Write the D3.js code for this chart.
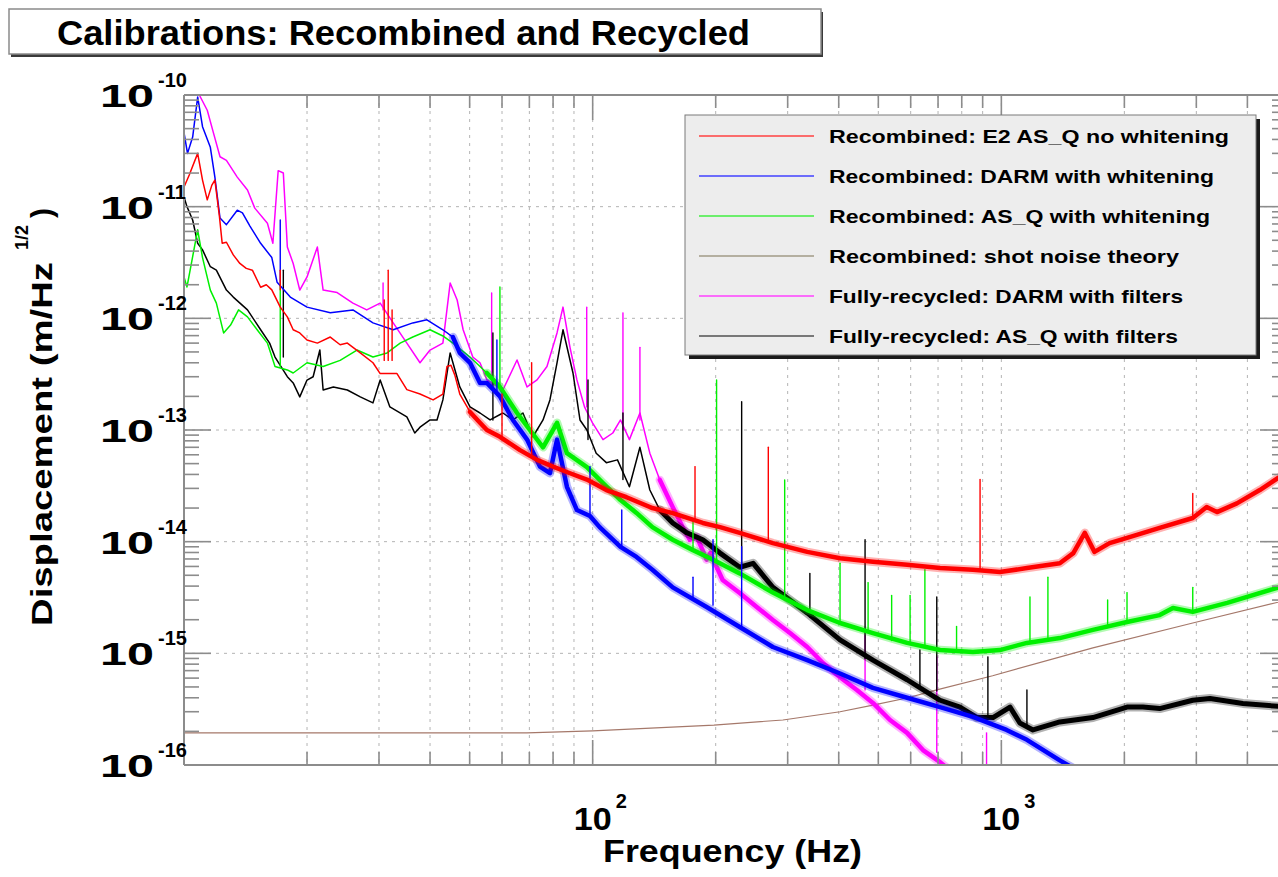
<!DOCTYPE html>
<html>
<head>
<meta charset="utf-8">
<title>Calibrations: Recombined and Recycled</title>
<script src="https://cdn.jsdelivr.net/npm/d3@7"></script>
<style>
  html, body { margin: 0; padding: 0; background: #ffffff; }
  svg { display: block; }
  text { font-family: "Liberation Sans", Arial, Helvetica, sans-serif; font-weight: bold; fill: #000; }
</style>
</head>
<body>
<svg id="chart" width="1278" height="877"></svg>
<script>
// ---- Spectra: [frequency (Hz), displacement (m/sqrt(Hz))] ----
const redTrace = [
  [10.0, 1.5e-11], [10.3, 1.92e-11], [10.8, 3.0e-11], [11.1, 1.73e-11], [11.4, 1.15e-11],
  [11.7, 1.56e-11], [11.9, 1.73e-11], [12.2, 8.4e-12], [12.4, 4.7e-12], [12.7, 4.8e-12],
  [13.2, 3.7e-12], [13.7, 3.1e-12], [14.2, 2.8e-12], [14.7, 2.7e-12], [15.4, 1.9e-12],
  [15.9, 2.0e-12], [16.4, 1.8e-12], [17.2, 1.26e-12], [17.9, 1.03e-12], [18.5, 7.9e-13],
  [19.2, 7.4e-13], [20.0, 6.4e-13], [21.2, 6.0e-13], [22.8, 6.8e-13], [24.1, 5.8e-13],
  [25.1, 6.0e-13], [27.0, 4.9e-13], [29.0, 4.0e-13], [30.2, 3.2e-13], [33.2, 3.2e-13],
  [35.1, 2.3e-13], [37.8, 2.1e-13], [40.7, 1.86e-13], [43.0, 2.1e-13], [44.0, 3.7e-13],
  [45.0, 3.8e-13], [46.0, 3.1e-13], [47.3, 2.1e-13], [50.1, 1.45e-13], [53.0, 1.16e-13],
  [55.1, 1.0e-13], [59.3, 8.7e-14], [66.4, 6.6e-14], [73.1, 5.4e-14], [80.0, 4.7e-14],
  [88.0, 4.1e-14], [96.8, 3.6e-14], [108, 2.9e-14], [121, 2.5e-14], [140, 2.0e-14],
  [157, 1.8e-14], [186, 1.47e-14], [205, 1.35e-14], [229, 1.2e-14], [276, 9.7e-15],
  [335, 8.1e-15], [403, 7.1e-15], [485, 6.6e-15], [588, 6.2e-15], [708, 5.8e-15],
  [852, 5.6e-15], [992, 5.35e-15], [1155, 5.8e-15], [1390, 6.4e-15], [1500, 7.9e-15],
  [1600, 1.2e-14], [1690, 8.1e-15], [1840, 9.7e-15], [2030, 1.08e-14], [2440, 1.33e-14],
  [2940, 1.63e-14], [3180, 2.04e-14], [3370, 1.84e-14], [3770, 2.2e-14], [4290, 2.9e-14],
  [5000, 4.2e-14]
];
const blueTrace = [
  [10.0, 4.6e-11], [10.2, 3.0e-11], [10.5, 4.2e-11], [10.8, 9.6e-11], [11.1, 5.2e-11],
  [11.6, 3.4e-11], [11.9, 1.84e-11], [12.25, 7.9e-12], [12.7, 6.9e-12], [13.5, 9.3e-12],
  [13.9, 8.8e-12], [14.5, 6.7e-12], [15.4, 4.7e-12], [16.4, 3.5e-12], [16.9, 2.1e-12],
  [18.2, 1.55e-12], [20.0, 1.26e-12], [22.8, 1.12e-12], [25.9, 1.19e-12], [29.0, 9.1e-13],
  [32.5, 7.9e-13], [36.3, 9.1e-13], [39.3, 9.7e-13], [43.0, 7.9e-13], [45.5, 6.8e-13],
  [47.3, 4.9e-13], [50.1, 4.0e-13], [53.0, 2.64e-13], [55.1, 2.64e-13], [59.3, 2.0e-13],
  [63.8, 1.23e-13], [69.1, 8.2e-14], [74.3, 4.7e-14], [78.6, 4.1e-14], [81.8, 8.2e-14],
  [86.5, 3.1e-14], [91.5, 1.92e-14], [98.5, 1.7e-14], [104, 1.35e-14], [117, 9.0e-15],
  [128, 7.3e-15], [140, 5.6e-15], [157, 3.9e-15], [190, 2.6e-15], [229, 1.72e-15],
  [276, 1.14e-15], [335, 8.7e-16], [403, 6.6e-16], [485, 4.9e-16], [588, 4.0e-16],
  [708, 3.3e-16], [852, 2.7e-16], [1030, 2.06e-16], [1155, 1.68e-16], [1390, 1.1e-16],
  [1490, 9.5e-17]
];
const greenTrace = [
  [10.0, 2.35e-12], [10.17, 1.91e-12], [10.8, 6.2e-12], [11.1, 3.5e-12], [11.6, 1.79e-12],
  [12.0, 1.37e-12], [12.5, 7.4e-13], [13.0, 8.7e-13], [13.6, 1.19e-12], [14.3, 1.03e-12],
  [15.1, 7.9e-13], [16.0, 6.0e-13], [16.7, 3.7e-13], [17.9, 3.45e-13], [18.5, 3.24e-13],
  [20.0, 4.0e-13], [21.9, 3.7e-13], [24.1, 4.2e-13], [26.5, 5.2e-13], [29.0, 4.5e-13],
  [31.4, 4.9e-13], [33.8, 6.0e-13], [36.3, 6.8e-13], [40.0, 7.9e-13], [43.0, 6.95e-13],
  [45.5, 6.0e-13], [50.1, 4.5e-13], [55.1, 3.24e-13], [59.3, 2.43e-13], [65.3, 1.42e-13],
  [70.2, 1.0e-13], [75.6, 7.0e-14], [81.8, 1.16e-13], [86.5, 6.2e-14], [96.8, 4.66e-14],
  [106, 3.35e-14], [117, 2.36e-14], [128, 1.81e-14], [140, 1.35e-14], [157, 1.04e-14],
  [176, 8.4e-15], [197, 6.9e-15], [229, 5.2e-15], [276, 3.5e-15], [335, 2.44e-15],
  [403, 1.87e-15], [485, 1.52e-15], [588, 1.24e-15], [708, 1.07e-15], [852, 1.03e-15],
  [992, 1.07e-15], [1155, 1.24e-15], [1390, 1.37e-15], [1675, 1.62e-15], [2030, 1.91e-15],
  [2440, 2.2e-15], [2630, 2.55e-15], [2940, 2.35e-15], [3570, 2.83e-15], [5000, 4.1e-15]
];
const shotTrace = [
  [10, 1.94e-16], [69, 1.94e-16], [100, 2.02e-16], [198, 2.28e-16], [292, 2.53e-16],
  [403, 3.0e-16], [485, 3.44e-16], [588, 3.98e-16], [695, 4.7e-16], [952, 6.3e-16],
  [1675, 1.12e-15], [2940, 1.87e-15], [5000, 3.0e-15]
];
const magentaTrace = [
  [10.3, 1.4e-10], [10.9, 1.0e-10], [11.4, 7.3e-11], [11.8, 4.6e-11], [12.25, 2.8e-11],
  [12.7, 2.6e-11], [13.5, 1.84e-11], [14.3, 1.41e-11], [14.9, 9.7e-12], [16.0, 7.1e-12],
  [16.5, 4.7e-12], [17.0, 2.1e-11], [17.5, 2.0e-11], [17.9, 4.35e-12], [18.5, 3.1e-12],
  [19.2, 1.79e-12], [20.0, 2.35e-12], [21.2, 4.35e-12], [21.9, 1.79e-12], [23.7, 1.7e-12],
  [25.9, 1.37e-12], [28.0, 1.19e-12], [30.2, 1.37e-12], [32.5, 9.1e-13], [35.1, 6.0e-13],
  [37.8, 4.0e-13], [40.0, 5.2e-13], [43.0, 6.0e-13], [44.8, 2.07e-12], [46.6, 1.46e-12],
  [48.2, 7.9e-13], [50.9, 4.5e-13], [53.0, 4.0e-13], [55.1, 2.81e-13], [60.3, 2.28e-13],
  [65.3, 4.24e-13], [69.1, 2.43e-13], [73.1, 2.81e-13], [77.3, 3.7e-13], [81.8, 7.4e-13],
  [84.6, 1.26e-12], [88.0, 5.5e-13], [91.5, 2.81e-13], [95.5, 1.61e-13], [99.9, 1.16e-13],
  [106, 8.2e-14], [112, 9.4e-14], [117, 1.23e-13], [123, 8.2e-14], [130.5, 1.42e-13],
  [138, 6.2e-14], [146, 3.57e-14], [157, 2.04e-14], [166, 1.35e-14], [173, 1.04e-14],
  [180, 1.1e-14], [190, 6.9e-15], [194, 7.9e-15], [208, 4.54e-15], [229, 3.47e-15],
  [252, 2.6e-15], [276, 1.99e-15], [304, 1.52e-15], [335, 1.14e-15], [366, 8.2e-16],
  [403, 6.1e-16], [443, 4.7e-16], [485, 3.6e-16], [534, 2.53e-16], [588, 1.94e-16],
  [643, 1.36e-16], [708, 1.06e-16], [748, 9.0e-17]
];
const blackTrace = [
  [10.0, 1.22e-11], [10.17, 1.0e-11], [10.5, 7.6e-12], [10.8, 4.7e-12], [11.1, 4.1e-12],
  [11.6, 2.9e-12], [12.0, 2.7e-12], [12.7, 1.79e-12], [13.2, 1.55e-12], [14.3, 1.19e-12],
  [15.4, 7.9e-13], [16.2, 6.0e-13], [16.7, 4.5e-13], [17.9, 3.0e-13], [18.5, 2.64e-13],
  [19.2, 1.98e-13], [20.0, 2.8e-13], [20.7, 3.0e-13], [21.5, 5.2e-13], [21.9, 2.28e-13],
  [23.2, 2.43e-13], [25.1, 2.28e-13], [27.0, 1.98e-13], [29.0, 1.75e-13], [30.2, 2.8e-13],
  [31.9, 1.61e-13], [35.1, 1.31e-13], [36.7, 9.4e-14], [37.8, 1.06e-13], [40.0, 1.23e-13],
  [41.6, 1.23e-13], [43.0, 1.86e-13], [44.8, 4.9e-13], [47.3, 2.43e-13], [50.1, 1.61e-13],
  [53.0, 1.42e-13], [56.1, 1.23e-13], [60.3, 1.42e-13], [63.8, 1.23e-13], [67.5, 1.42e-13],
  [71.4, 8.7e-14], [75.6, 1.23e-13], [78.6, 1.86e-13], [81.8, 4.0e-13], [84.6, 7.9e-13],
  [89.5, 3.24e-13], [93.1, 1.23e-13], [96.8, 1.0e-13], [102, 6.2e-14], [108, 5.1e-14],
  [115, 5.4e-14], [123, 3.1e-14], [130.5, 7.0e-14], [138, 2.9e-14], [146, 1.92e-14],
  [157, 1.47e-14], [170, 1.2e-14], [186, 1.04e-14], [205, 7.9e-15], [229, 5.9e-15],
  [247, 6.4e-15], [276, 3.9e-15], [335, 2.3e-15], [403, 1.32e-15], [485, 8.7e-16],
  [588, 5.8e-16], [708, 3.8e-16], [792, 3.3e-16], [872, 2.66e-16], [954, 2.66e-16],
  [1050, 3.3e-16], [1110, 2.38e-16], [1195, 2.06e-16], [1390, 2.43e-16], [1675, 2.66e-16],
  [2030, 3.3e-16], [2220, 3.3e-16], [2440, 3.2e-16], [2940, 3.8e-16], [3240, 3.94e-16],
  [3900, 3.56e-16], [5000, 3.3e-16]
];

// ---- Narrow lines: [frequency, floor, peak] ----
const redLines = [
  [17.2, 1.8e-12, 2.7e-12], [30.9, 4.2e-13, 1.46e-12], [31.6, 4.2e-13, 2.7e-12],
  [32.3, 4.2e-13, 1.19e-12], [60, 8.7e-14, 2.1e-13], [70.9, 6.0e-14, 4.0e-13],
  [178, 1.56e-14, 4.7e-14], [269, 1.0e-14, 7.0e-14], [887, 5.6e-15, 3.6e-14],
  [2940, 1.63e-14, 2.7e-14]
];
const blueLines = [
  [17.2, 2.1e-12, 7.6e-12], [58.3, 2.1e-13, 6.4e-13], [98.5, 1.7e-14, 4.7e-14],
  [117.8, 9.0e-15, 1.92e-14], [176, 3.0e-15, 4.8e-15], [197, 2.7e-15, 1.04e-14],
  [231.5, 1.72e-15, 9.0e-15]
];
const greenLines = [
  [17.2, 3.7e-13, 2.07e-12], [59.3, 2.43e-13, 1.91e-12], [176, 8.4e-15, 1.56e-14],
  [201, 6.6e-15, 2.81e-13], [295, 3.2e-15, 3.57e-14], [403, 1.87e-15, 6.4e-15],
  [472, 1.55e-15, 4.3e-15], [539, 1.3e-15, 3.3e-15], [598, 1.2e-15, 3.3e-15],
  [650, 1.14e-15, 5.6e-15], [777, 1.05e-15, 1.74e-15], [1175, 1.26e-15, 3.2e-15],
  [1300, 1.32e-15, 4.8e-15], [1820, 1.7e-15, 3.0e-15], [2030, 1.91e-15, 3.5e-15],
  [2940, 2.35e-15, 3.9e-15]
];
const magentaLines = [
  [30.7, 1.19e-12, 2.07e-12], [56.6, 2.5e-13, 1.69e-12], [96.7, 1.61e-13, 1.26e-12],
  [118.6, 1.0e-13, 1.12e-12], [130.5, 1.23e-13, 5.5e-13], [464, 4.7e-16, 1.74e-15],
  [695, 1.3e-16, 9.3e-16], [920, 8.0e-17, 1.94e-16]
];
const blackLines = [
  [17.5, 4.5e-13, 2.7e-12], [57, 1.23e-13, 7.4e-13], [97.4, 8.2e-14, 2.8e-13],
  [118.6, 3.6e-14, 1.42e-13], [231.5, 5.9e-15, 1.79e-13], [340, 2.1e-15, 5.2e-15],
  [464, 9.0e-16, 1.04e-14], [632, 5.0e-16, 1.07e-15], [695, 4.6e-16, 3.2e-15],
  [927, 2.7e-16, 9.3e-16], [1155, 2.2e-16, 4.7e-16]
];

// ---- Labels ----
const titleText = "Calibrations: Recombined and Recycled";
const legendLabels = [
  "Recombined: E2 AS_Q no whitening",
  "Recombined: DARM with whitening",
  "Recombined: AS_Q with whitening",
  "Recombined: shot noise theory",
  "Fully-recycled: DARM with filters",
  "Fully-recycled: AS_Q with filters"
];
const xLabelDecades = [2, 3];
const yLabelDecades = [-10, -11, -12, -13, -14, -15, -16];
const xAxisTitle = "Frequency (Hz)";
const yAxisTitle = "Displacement (m/Hz";
const yAxisTitleSup = "1/2";

// ---- Layout ----
const plot = { left: 184, right: 1287, top: 95, bottom: 765 };
const svg = d3.select("#chart");

const x = d3.scaleLog().domain([10, 5000]).range([plot.left, plot.right]);
const y = d3.scaleLog().domain([1e-16, 1e-10]).range([plot.bottom, plot.top]);

svg.append("defs").append("clipPath").attr("id", "plotClip")
  .append("rect")
  .attr("x", plot.left).attr("y", plot.top)
  .attr("width", plot.right - plot.left).attr("height", plot.bottom - plot.top);

// Title box with drop shadow
const tb = { x: 9, y: 9, w: 812, h: 45 };
svg.append("rect").attr("x", tb.x + 2).attr("y", tb.y + 3).attr("width", tb.w).attr("height", tb.h)
  .attr("fill", "#3a3a3a");
svg.append("rect").attr("x", tb.x).attr("y", tb.y).attr("width", tb.w).attr("height", tb.h)
  .attr("fill", "#ffffff").attr("stroke", "#8a8a8a").attr("stroke-width", 1.5);
svg.append("text").attr("x", 57).attr("y", 45)
  .attr("font-size", 35).attr("textLength", 693).attr("lengthAdjust", "spacingAndGlyphs")
  .text(titleText);

// Grid: dashed verticals at every log tick, horizontals at each decade
const xGridVals = [];
[10, 100, 1000].forEach(dec => { for (let k = 1; k <= 9; k++) { const v = dec * k; if (v > 10 && v < 5000) xGridVals.push(v); } });
const grid = svg.append("g").attr("stroke", "#b4b4b4").attr("stroke-width", 1).attr("stroke-dasharray", "3,5");
grid.selectAll("line.gx").data(xGridVals).join("line")
  .attr("x1", d => x(d)).attr("x2", d => x(d)).attr("y1", plot.top).attr("y2", plot.bottom);
grid.selectAll("line.gy").data([1e-11, 1e-12, 1e-13, 1e-14, 1e-15]).join("line")
  .attr("y1", d => y(d)).attr("y2", d => y(d)).attr("x1", plot.left).attr("x2", plot.right);

// Traces: thin line everywhere, a dense noise band above each trace's band frequency
const line = d3.line().x(d => x(d[0])).y(d => y(d[1]));
const traces = svg.append("g").attr("clip-path", "url(#plotClip)").attr("fill", "none")
  .attr("stroke-linejoin", "round").attr("stroke-linecap", "round");

const series = [
  { data: shotTrace, lines: [], color: "#a5786a", width: 1.2, band: null, bandWidth: 0 },
  { data: magentaTrace, lines: magentaLines, color: "#ff00ff", width: 1.5, band: 140, bandWidth: 4.5 },
  { data: blackTrace, lines: blackLines, color: "#000000", width: 1.5, band: 140, bandWidth: 5 },
  { data: greenTrace, lines: greenLines, color: "#00f000", width: 1.5, band: 55, bandWidth: 4.5 },
  { data: blueTrace, lines: blueLines, color: "#0000ff", width: 1.5, band: 45, bandWidth: 4.5 },
  { data: redTrace, lines: redLines, color: "#ff0000", width: 1.5, band: 50, bandWidth: 4.5 }
];
series.forEach(s => {
  traces.append("path").datum(s.data).attr("d", line)
    .attr("stroke", s.color).attr("stroke-width", s.width);
  if (s.band) {
    const bandData = s.data.filter(d => d[0] >= s.band);
    traces.append("path").datum(bandData).attr("d", line)
      .attr("stroke", s.color).attr("stroke-width", s.bandWidth + 4).attr("stroke-opacity", 0.3);
    traces.append("path").datum(bandData).attr("d", line)
      .attr("stroke", s.color).attr("stroke-width", s.bandWidth);
  }
  traces.selectAll(null).data(s.lines).join("line")
    .attr("x1", d => x(d[0])).attr("x2", d => x(d[0]))
    .attr("y1", d => y(d[1])).attr("y2", d => y(d[2]))
    .attr("stroke", s.color).attr("stroke-width", 1.4);
});

// Frame and ticks
const axisColor = "#8c8c8c";
const frame = svg.append("g").attr("stroke", axisColor).attr("stroke-width", 2);
frame.append("line").attr("x1", plot.left).attr("x2", plot.right).attr("y1", plot.bottom).attr("y2", plot.bottom);
frame.append("line").attr("x1", plot.left).attr("x2", plot.right).attr("y1", plot.top).attr("y2", plot.top);
frame.append("line").attr("x1", plot.left).attr("x2", plot.left).attr("y1", plot.top).attr("y2", plot.bottom);
frame.append("line").attr("x1", plot.right).attr("x2", plot.right).attr("y1", plot.top).attr("y2", plot.bottom);

const xTicks = [];
[10, 100, 1000].forEach(dec => { for (let k = 1; k <= 9; k++) { const v = dec * k; if (v > 10 && v < 5000) xTicks.push({ v, major: k === 1 }); } });
const tickG = svg.append("g").attr("stroke", axisColor).attr("stroke-width", 1.6);
xTicks.forEach(t => {
  const len = t.major ? 25 : 13;
  tickG.append("line").attr("x1", x(t.v)).attr("x2", x(t.v)).attr("y1", plot.bottom).attr("y2", plot.bottom - len);
  tickG.append("line").attr("x1", x(t.v)).attr("x2", x(t.v)).attr("y1", plot.top).attr("y2", plot.top + len);
});
const yTicks = [];
for (let e = -16; e < -10; e++) { for (let k = 1; k <= 9; k++) { const v = k * Math.pow(10, e); if (v > 1e-16 * 1.0001 && v < 1e-10 * 0.9999) yTicks.push({ v, major: k === 1 }); } }
yTicks.forEach(t => {
  const len = t.major ? 27 : 15;
  tickG.append("line").attr("y1", y(t.v)).attr("y2", y(t.v)).attr("x1", plot.left).attr("x2", plot.left + len);
  tickG.append("line").attr("y1", y(t.v)).attr("y2", y(t.v)).attr("x1", plot.right).attr("x2", plot.right - len);
});

// Tick labels (10 with superscript exponent)
yLabelDecades.forEach(e => {
  const yy = y(Math.pow(10, e));
  const g = svg.append("g").attr("transform", `translate(0,${yy})`);
  g.append("text").attr("x", 154).attr("y", 12).attr("text-anchor", "end")
    .attr("font-size", 31).attr("textLength", 54).attr("lengthAdjust", "spacingAndGlyphs").text("10");
  g.append("text").attr("x", 158).attr("y", -8).attr("font-size", 20).text(String(e));
});
xLabelDecades.forEach(e => {
  const xx = x(Math.pow(10, e));
  const g = svg.append("g").attr("transform", `translate(${xx},0)`);
  g.append("text").attr("x", 0).attr("y", 830).attr("text-anchor", "middle")
    .attr("font-size", 31).attr("textLength", 38).attr("lengthAdjust", "spacingAndGlyphs").text("10");
  g.append("text").attr("x", 23).attr("y", 808).attr("font-size", 20).text(String(e));
});

// Axis titles
svg.append("text").attr("x", 603).attr("y", 862)
  .attr("font-size", 31).attr("textLength", 259).attr("lengthAdjust", "spacingAndGlyphs")
  .text(xAxisTitle);
const yt = svg.append("g").attr("transform", "translate(52,626) rotate(-90)");
yt.append("text").attr("x", 0).attr("y", 0).attr("font-size", 30)
  .attr("textLength", 364).attr("lengthAdjust", "spacingAndGlyphs").text(yAxisTitle);
yt.append("text").attr("x", 376).attr("y", -24).attr("font-size", 18).text(yAxisTitleSup);
yt.append("text").attr("x", 408).attr("y", 0).attr("font-size", 30).text(")");

// Legend
const lg = { x: 685, y: 115, w: 571, h: 240 };
svg.append("rect").attr("x", lg.x + 4).attr("y", lg.y + 4).attr("width", lg.w).attr("height", lg.h).attr("fill", "#1a1a1a");
svg.append("rect").attr("x", lg.x).attr("y", lg.y).attr("width", lg.w).attr("height", lg.h)
  .attr("fill", "#ededed").attr("stroke", "#7a7a7a").attr("stroke-width", 1);
const legendColors = ["#ff4040", "#4040ff", "#40ee40", "#a09a86", "#ff40ff", "#505050"];
const legendWidths = [400, 385, 381, 350, 354, 349];
legendLabels.forEach((lab, i) => {
  const ry = 136 + i * 40;
  svg.append("line").attr("x1", 699).attr("x2", 814).attr("y1", ry).attr("y2", ry)
    .attr("stroke", legendColors[i]).attr("stroke-width", 1.5);
  svg.append("text").attr("x", 829).attr("y", ry + 7).attr("font-size", 19)
    .attr("textLength", legendWidths[i]).attr("lengthAdjust", "spacingAndGlyphs").text(lab);
});
</script>
</body>
</html>
